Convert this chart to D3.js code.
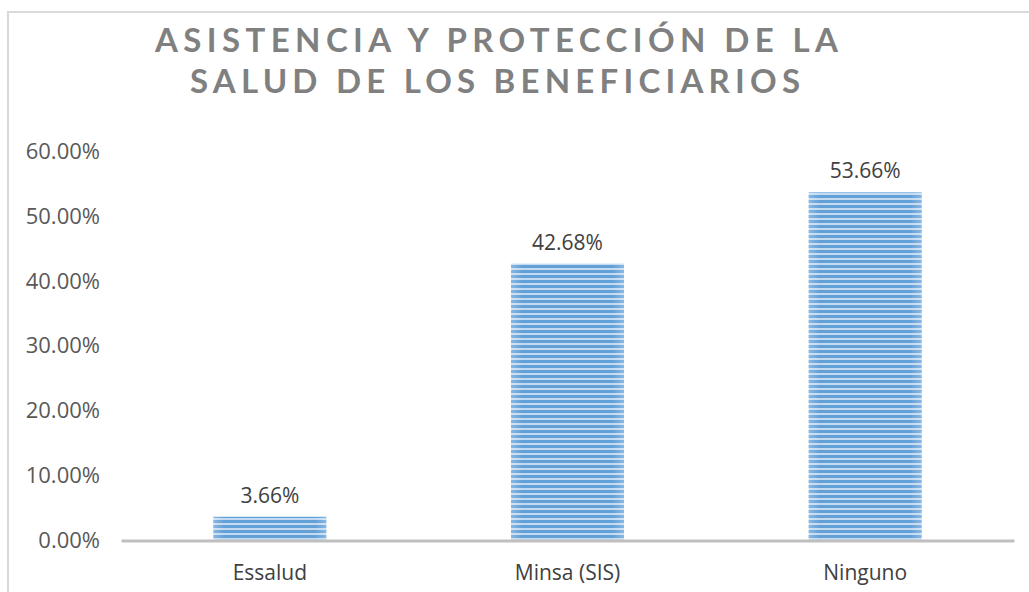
<!DOCTYPE html>
<html><head><meta charset="utf-8">
<script src="https://cdn.jsdelivr.net/npm/d3@7"></script>
<style>body{margin:0;background:#fff;} svg{display:block;}</style>
</head><body>
<script>
const categories = ["Essalud", "Minsa (SIS)", "Ninguno"];
const values = [0.0366, 0.4268, 0.5366];
const yTicks = [0, 0.1, 0.2, 0.3, 0.4, 0.5, 0.6];
const titleLines = ["ASISTENCIA Y PROTECCIÓN DE LA", "SALUD DE LOS BENEFICIARIOS"];

const W = 1029, H = 592;
const svg = d3.select("body").append("svg").attr("width", W).attr("height", H);

// stripe pattern
const defs = svg.append("defs");
const pat = defs.append("pattern").attr("id","stripes").attr("patternUnits","userSpaceOnUse")
  .attr("width", 10).attr("height", 5);
pat.append("rect").attr("width",10).attr("height",5).attr("fill","#c3daf1");
pat.append("rect").attr("y",0).attr("width",10).attr("height",3).attr("fill","#62a0d8");
const grad = defs.append("linearGradient").attr("id","fade").attr("x1","0").attr("x2","1");
grad.append("stop").attr("offset","0").attr("stop-color","#fff").attr("stop-opacity",0.25);
grad.append("stop").attr("offset","0.1").attr("stop-color","#fff").attr("stop-opacity",0);
grad.append("stop").attr("offset","0.9").attr("stop-color","#fff").attr("stop-opacity",0);
grad.append("stop").attr("offset","1").attr("stop-color","#fff").attr("stop-opacity",0.25);

// frame
svg.append("rect").attr("x", 8).attr("y", 12).attr("width", W).attr("height", H)
  .attr("fill","none").attr("stroke","#d9d9d9").attr("stroke-width",2);

// title
const titleStarts = [155, 190], titleLens = [683, 610], titleY = [52, 93];
svg.selectAll("text.title").data(titleLines).join("text").attr("class","title")
  .attr("x",(d,i)=>titleStarts[i]).attr("y",(d,i)=>titleY[i])
  .attr("textLength",(d,i)=>titleLens[i]).attr("lengthAdjust","spacing")
  .attr("font-family","Lato, sans-serif").attr("font-weight",700)
  .attr("font-size",33).attr("fill","#808080").text(d=>d);

const x = d3.scaleBand().domain(categories).range([121, 1014]).padding(0);
const y = d3.scaleLinear().domain([0, 0.6]).range([540.5, 151.2]);
const barW = 113;
const lblFont = "'Open Sans', sans-serif";

// y tick labels
const fmt = d3.format(".2%");
svg.append("g").attr("transform","translate(100,0)")
  .call(d3.axisLeft(y).tickValues(yTicks).tickFormat(fmt).tickSize(0).tickPadding(0))
  .call(g=>g.select(".domain").remove())
  .call(g=>g.selectAll("text").attr("font-family",lblFont).attr("font-size",22).attr("fill","#595959"));

// bars
const bars = svg.append("g");
categories.forEach((c,i)=>{
  const bx = x(c) + x.bandwidth()/2 - barW/2;
  bars.append("rect").attr("x",bx).attr("y",y(values[i])).attr("width",barW)
    .attr("height",y(0)-y(values[i])).attr("fill","url(#stripes)");
  bars.append("rect").attr("x",bx).attr("y",y(values[i])).attr("width",barW)
    .attr("height",y(0)-y(values[i])).attr("fill","url(#fade)");
});

// x axis
svg.append("g").attr("transform","translate(0,540.5)")
  .call(d3.axisBottom(x).tickSize(0).tickPadding(25))
  .call(g=>g.select(".domain").attr("stroke","#bfbfbf").attr("stroke-width",3))
  .call(g=>g.selectAll("text").attr("font-family",lblFont).attr("font-size",21).attr("fill","#404040"));

// data labels
svg.append("g").selectAll("text").data(values).join("text")
  .attr("x",(d,i)=>x(categories[i])+x.bandwidth()/2)
  .attr("y",d=>y(d)-14).attr("text-anchor","middle")
  .attr("font-family",lblFont).attr("font-size",21).attr("fill","#404040")
  .text(d=>fmt(d));
</script>
</body></html>
